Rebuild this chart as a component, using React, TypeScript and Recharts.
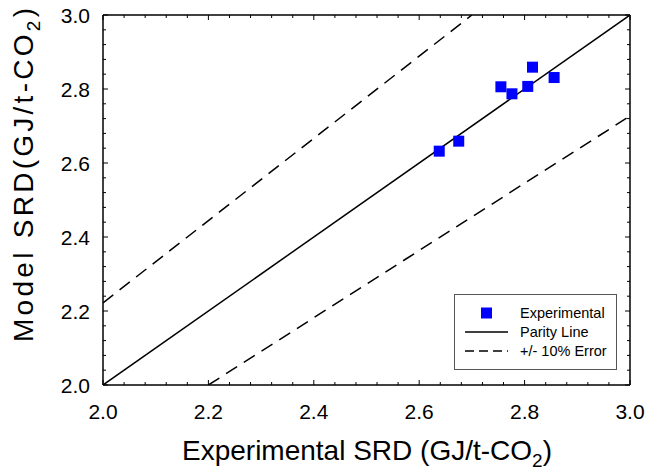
import React from 'react'
import { ScatterChart, Scatter, XAxis, YAxis, ReferenceLine } from 'recharts'

// measured SRD values (GJ/t-CO2)
const experimental = [
  { x: 2.638, y: 2.632 },
  { x: 2.675, y: 2.659 },
  { x: 2.755, y: 2.806 },
  { x: 2.776, y: 2.787 },
  { x: 2.806, y: 2.807 },
  { x: 2.815, y: 2.859 },
  { x: 2.856, y: 2.831 },
]

// parity line and +/- 10% bounds, end points only
const parityLine = [{ x: 2.0, y: 2.0 }, { x: 3.0, y: 3.0 }]
const upperBound = [{ x: 2.0, y: 2.222 }, { x: 2.7, y: 3.0 }]
const lowerBound = [{ x: 2.2, y: 2.0 }, { x: 3.0, y: 2.727 }]

const majorTicks = [2.0, 2.2, 2.4, 2.6, 2.8, 3.0]
const allTicks = [
  2.0, 2.04, 2.08, 2.12, 2.16, 2.2, 2.24, 2.28, 2.32, 2.36, 2.4, 2.44, 2.48,
  2.52, 2.56, 2.6, 2.64, 2.68, 2.72, 2.76, 2.8, 2.84, 2.88, 2.92, 2.96, 3.0,
]

const legendLabels = ['Experimental', 'Parity Line', '+/- 10% Error']

const W = 649
const H = 472
const PLOT = { left: 103, top: 15, right: 630, bottom: 385 }
const FONT = '"Liberation Sans", Arial, sans-serif'

const isMajor = (v: number) => majorTicks.some(m => Math.abs(m - v) < 1e-6)

function XTick(props: any) {
  const { x, payload } = props
  const v = payload.value
  const len = isMajor(v) ? 5 : 3
  return (
    <g>
      <line x1={x} x2={x} y1={PLOT.bottom} y2={PLOT.bottom - len} stroke="#000" strokeWidth={1} />
      <line x1={x} x2={x} y1={PLOT.top} y2={PLOT.top + len} stroke="#000" strokeWidth={1} />
      {isMajor(v) && (
        <text x={x} y={PLOT.bottom + 34} textAnchor="middle" fontSize={21} fontFamily={FONT} fill="#000">
          {v.toFixed(1)}
        </text>
      )}
    </g>
  )
}

function YTick(props: any) {
  const { y, payload } = props
  const v = payload.value
  const len = isMajor(v) ? 5 : 3
  return (
    <g>
      <line x1={PLOT.left} x2={PLOT.left + len} y1={y} y2={y} stroke="#000" strokeWidth={1} />
      <line x1={PLOT.right} x2={PLOT.right - len} y1={y} y2={y} stroke="#000" strokeWidth={1} />
      {isMajor(v) && (
        <text x={PLOT.left - 13} y={y + 7.5} textAnchor="end" fontSize={21} fontFamily={FONT} fill="#000">
          {v.toFixed(1)}
        </text>
      )}
    </g>
  )
}

const NoShape = () => <g />

const SquareShape = (props: any) => {
  const { cx, cy } = props
  return <rect x={cx - 5.5} y={cy - 5.5} width={11} height={11} fill="#0000ff" />
}

function LegendBox() {
  return (
    <svg width={163} height={76} style={{ display: 'block' }}>
      <rect x={0.5} y={0.5} width={162} height={75} fill="#fff" stroke="#555" strokeWidth={1} />
      <rect x={27} y={13.5} width={11} height={11} fill="#0000ff" />
      <line x1={11} x2={54} y1={38} y2={38} stroke="#000" strokeWidth={1.5} />
      <line x1={11} x2={54} y1={57} y2={57} stroke="#000" strokeWidth={1.5} strokeDasharray="9 5" />
      <g fontFamily={FONT} fontSize={14.5} fill="#000">
        <text x={66} y={24}>{legendLabels[0]}</text>
        <text x={66} y={43}>{legendLabels[1]}</text>
        <text x={66} y={62}>{legendLabels[2]}</text>
      </g>
    </svg>
  )
}

export default function App() {
  return (
    <div style={{ position: 'absolute', left: 0, top: 0, width: W, height: H, background: '#fff' }}>
      <ScatterChart width={W} height={H} margin={{ top: 15, right: 19, bottom: 0, left: 0 }}>
        <XAxis
          type="number"
          dataKey="x"
          domain={[2, 3]}
          ticks={allTicks}
          interval={0}
          tickSize={0}
          tickMargin={0}
          tick={<XTick />}
          height={87}
          stroke="#000"
          strokeWidth={1.5}
          allowDataOverflow
        />
        <YAxis
          type="number"
          dataKey="y"
          domain={[2, 3]}
          ticks={allTicks}
          interval={0}
          tickSize={0}
          tickMargin={0}
          tick={<YTick />}
          width={103}
          stroke="#000"
          strokeWidth={1.5}
          allowDataOverflow
        />
        <ReferenceLine x={3} stroke="#000" strokeWidth={1.5} />
        <ReferenceLine y={3} stroke="#000" strokeWidth={1.5} />
        <Scatter
          data={upperBound}
          line={{ stroke: '#000', strokeWidth: 1.5, strokeDasharray: '13 8' }}
          shape={<NoShape />}
          legendType="none"
          isAnimationActive={false}
        />
        <Scatter
          data={lowerBound}
          line={{ stroke: '#000', strokeWidth: 1.5, strokeDasharray: '13 8' }}
          shape={<NoShape />}
          legendType="none"
          isAnimationActive={false}
        />
        <Scatter
          data={parityLine}
          line={{ stroke: '#000', strokeWidth: 1.5 }}
          shape={<NoShape />}
          legendType="none"
          isAnimationActive={false}
        />
        <Scatter
          name="Experimental"
          data={experimental}
          shape={<SquareShape />}
          isAnimationActive={false}
        />
        <text x={367} y={460} textAnchor="middle" fontSize={28} fontFamily={FONT} fill="#000">
          Experimental SRD (GJ/t-CO<tspan dy={7} fontSize={19}>2</tspan><tspan dy={-7}>)</tspan>
        </text>
        <text
          transform="translate(33, 175) rotate(-90)"
          textAnchor="middle"
          fontSize={28}
          fontFamily={FONT}
          fill="#000"
          textLength={334}
          lengthAdjust="spacing"
        >
          Model SRD(GJ/t-CO<tspan dy={7} fontSize={19}>2</tspan><tspan dy={-7}>)</tspan>
        </text>
      </ScatterChart>
      <div style={{ position: 'absolute', left: 454, top: 294, width: 163, height: 76 }}>
        <LegendBox />
      </div>
    </div>
  )
}
